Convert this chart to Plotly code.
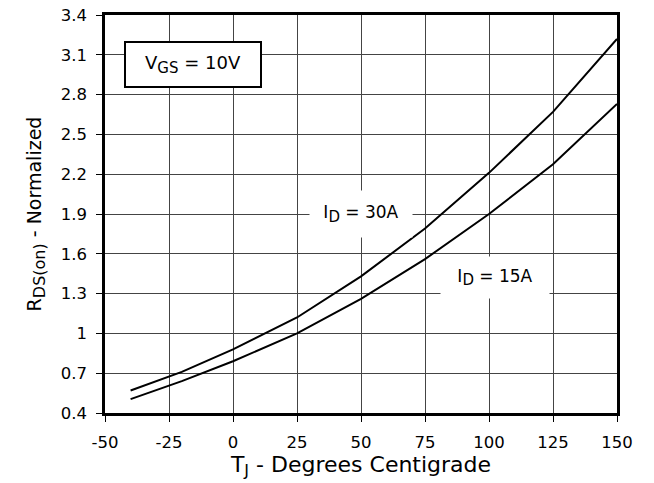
import plotly.graph_objects as go

# Junction temperature (deg C) sample points
temp_c = [-40, -20, 0, 25, 50, 75, 100, 125, 150]

# Normalized on-resistance for two drain currents
rds_30a = [0.57, 0.71, 0.88, 1.12, 1.43, 1.79, 2.21, 2.67, 3.22]
rds_15a = [0.505, 0.64, 0.79, 1.00, 1.26, 1.56, 1.90, 2.275, 2.73]

x_ticks = [-50, -25, 0, 25, 50, 75, 100, 125, 150]
x_tick_text = ["-50", "-25", "0", "25", "50", "75", "100", "125", "150"]
y_ticks = [0.4, 0.7, 1.0, 1.3, 1.6, 1.9, 2.2, 2.5, 2.8, 3.1, 3.4]
y_tick_text = ["0.4", "0.7", "1", "1.3", "1.6", "1.9", "2.2", "2.5", "2.8", "3.1", "3.4"]

FONT = "DejaVu Sans"


def sub(txt, size):
    return f"<sub><span style='font-size:{size}px'>{txt}</span></sub>"


fig = go.Figure()
for vals in (rds_30a, rds_15a):
    fig.add_trace(go.Scatter(
        x=temp_c, y=vals, mode="lines",
        line=dict(color="black", width=2),
        showlegend=False, hoverinfo="skip",
    ))

axis_common = dict(
    showline=True, linecolor="black", linewidth=2.5, mirror=True,
    showgrid=True, gridcolor="#444", gridwidth=1,
    zeroline=False,
    ticks="outside", ticklen=6, tickwidth=1, tickcolor="black",
    tickfont=dict(family=FONT, size=16.5, color="black"),
)

fig.update_xaxes(
    range=[-50, 150], tickvals=x_ticks, ticktext=x_tick_text, ticklabelstandoff=6,
    title=dict(text="T" + sub("J", 16) + " - Degrees Centigrade",
               font=dict(family=FONT, size=22, color="black"), standoff=5),
    **axis_common,
)
fig.update_yaxes(
    range=[0.4, 3.4], tickvals=y_ticks, ticktext=y_tick_text, ticklabelstandoff=6,
    title=dict(text="R" + sub("DS(on)", 16) + " - Normalized",
               font=dict(family=FONT, size=19, color="black"), standoff=15),
    **axis_common,
)

fig.add_annotation(
    x=-15.8, y=3.025, xref="x", yref="y",
    text="V" + sub("GS", 15) + " = 10V", showarrow=False,
    font=dict(family=FONT, size=18, color="black"),
    bgcolor="white", bordercolor="black", borderwidth=2, borderpad=0,
    width=134, height=43,
)
fig.add_annotation(
    x=50, y=1.9, xref="x", yref="y",
    text="I" + sub("D", 15) + " = 30A", showarrow=False,
    font=dict(family=FONT, size=17, color="black"),
    bgcolor="white", borderpad=0, width=102, height=46,
)
fig.add_annotation(
    x=102.5, y=1.42, xref="x", yref="y",
    text="I" + sub("D", 15) + " = 15A", showarrow=False,
    font=dict(family=FONT, size=17, color="black"),
    bgcolor="white", borderpad=0, width=108, height=41,
)

fig.update_layout(
    width=654, height=483,
    margin=dict(l=105, r=37, t=15, b=70, autoexpand=False),
    paper_bgcolor="white", plot_bgcolor="white",
    font=dict(family=FONT, color="black"),
)

fig.write_html("out.html")
